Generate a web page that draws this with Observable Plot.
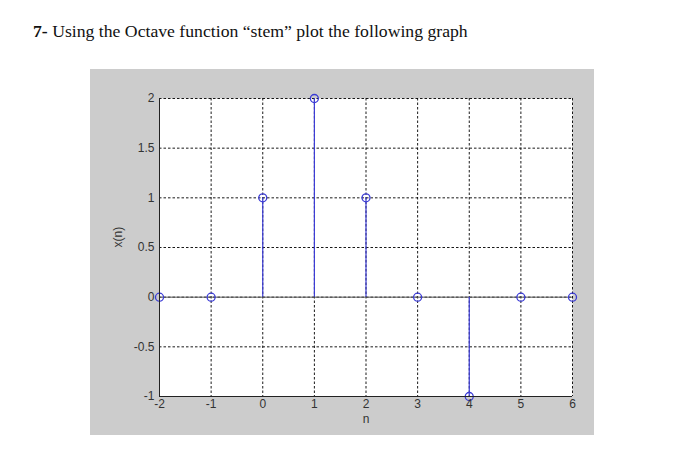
<!DOCTYPE html>
<html>
<head>
<meta charset="utf-8">
<script src="https://cdn.jsdelivr.net/npm/d3@7"></script>
<script src="https://cdn.jsdelivr.net/npm/@observablehq/plot@0.6"></script>
<style>
  html, body { margin: 0; padding: 0; background: white; width: 700px; height: 467px; overflow: hidden; }
  #title { position: absolute; left: 33px; top: 21px; font-family: "Liberation Serif", "Times New Roman", serif; font-size: 17.7px; color: #111; white-space: nowrap; }
  #chart { position: absolute; left: 90px; top: 69px; width: 504px; height: 366px; background: #cccccc; }
</style>
</head>
<body>
<div id="title"><b>7-</b> Using the Octave function “stem” plot the following graph</div>
<div id="chart"></div>
<script>
const nValues = [-2, -1, 0, 1, 2, 3, 4, 5, 6];
const xValues = [0, 0, 1, 2, 1, 0, -1, 0, 0];
const xTicks = [-2, -1, 0, 1, 2, 3, 4, 5, 6];
const yTicks = [-1, -0.5, 0, 0.5, 1, 1.5, 2];
const xLabel = "n";
const yLabel = "x(n)";

const data = nValues.map((n, i) => ({n, v: xValues[i]}));
const blue = "#3b3bd6";
const fontFam = "'Liberation Sans', Arial, sans-serif";
const fmt = d => String(d);

const plot = Plot.plot({
  width: 504,
  height: 366,
  marginLeft: 69,
  marginTop: 29,
  marginRight: 22,
  marginBottom: 39,
  style: {background: "transparent", fontFamily: fontFam, fontSize: "12px", color: "#333"},
  x: {domain: [-2, 6], label: null},
  y: {domain: [-1, 2], label: null},
  marks: [
    Plot.frame({fill: "white", stroke: null}),
    Plot.gridX(xTicks, {stroke: "#000", strokeOpacity: 0.9, strokeDasharray: "2.5,2"}),
    Plot.gridY(yTicks, {stroke: "#000", strokeOpacity: 0.9, strokeDasharray: "2.5,2"}),
    Plot.ruleY([0], {stroke: "#555", strokeWidth: 1}),
    Plot.ruleX(data.filter(d => d.v !== 0), {x: "n", y1: 0, y2: "v", stroke: blue, strokeWidth: 1.2}),
    Plot.dot(data, {x: "n", y: "v", r: 4, stroke: blue, strokeWidth: 1.3, fill: "none"}),
    Plot.ruleX([xTicks[0]], {stroke: "#222", strokeWidth: 1}),
    Plot.ruleY([yTicks[0]], {stroke: "#222", strokeWidth: 1}),
    Plot.axisX(xTicks, {tickSize: 0, tickPadding: 3, tickFormat: fmt, fill: "#333", fontSize: 12, label: null}),
    Plot.axisY(yTicks, {tickSize: 0, tickPadding: 5, tickFormat: fmt, fill: "#333", fontSize: 12, label: null}),
    Plot.text([xLabel], {frameAnchor: "bottom", dy: 26, fill: "#333", fontSize: 12}),
    Plot.text([yLabel], {frameAnchor: "left", dx: -41, rotate: -90, fill: "#333", fontSize: 12})
  ]
});
document.getElementById("chart").appendChild(plot);
</script>
</body>
</html>
